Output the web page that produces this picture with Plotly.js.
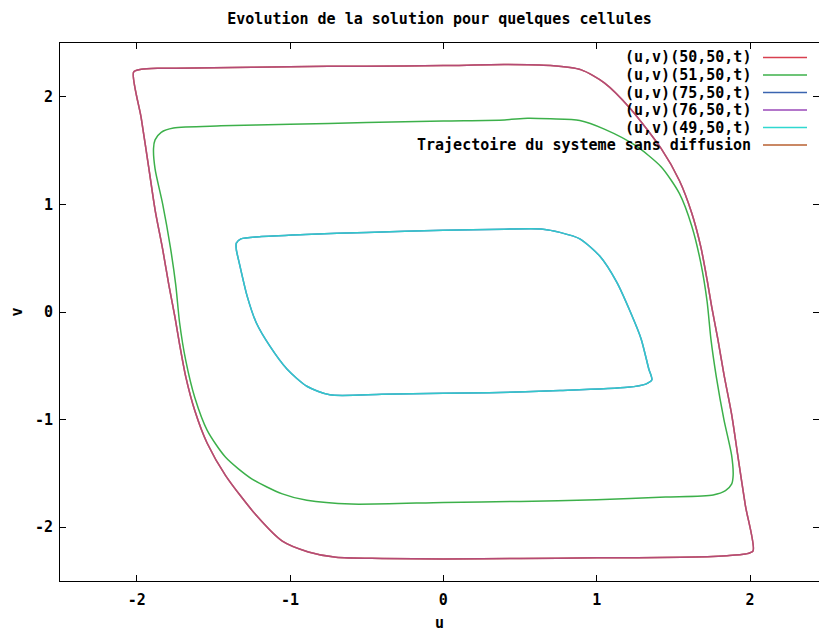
<!DOCTYPE html>
<html>
<head>
<meta charset="utf-8">
<script src="https://cdn.plot.ly/plotly-3.0.1.min.js"></script>
<style>html,body{margin:0;padding:0;background:#fff;}#chart{width:819px;height:632px;}</style>
</head>
<body>
<div id="chart"></div>
<script>
// ---------- DATA ----------
const seriesNames = ["(u,v)(50,50,t)", "(u,v)(51,50,t)", "(u,v)(75,50,t)", "(u,v)(76,50,t)", "(u,v)(49,50,t)", "Trajectoire du systeme sans diffusion"];
const seriesColors = ["#d8404f", "#3cb04a", "#3a64b0", "#9a48b8", "#30d8d0", "#b86030"];

// outer limit cycle (system without diffusion, also followed by cells 50 and 76)
const u_outer = [-2.02,-1.97,-1.85,-1.5,-1.0,-0.5,0.0,0.4,0.7,0.9,1.05,1.22,1.42,1.54,1.62,1.68,1.72,1.75,1.79,1.83,1.88,1.92,1.97,2.02,
                 1.97,1.85,1.55,1.0,0.5,0.0,-0.4,-0.7,-0.88,-1.05,-1.22,-1.42,-1.54,-1.62,-1.68,-1.72,-1.75,-1.79,-1.83,-1.88,-1.92,-1.97,-2.02];
const v_outer = [2.23,2.255,2.265,2.27,2.28,2.285,2.29,2.30,2.29,2.25,2.13,1.89,1.52,1.22,0.92,0.60,0.30,0.05,-0.25,-0.58,-0.95,-1.33,-1.80,-2.22,
                 -2.25,-2.265,-2.28,-2.285,-2.29,-2.295,-2.29,-2.28,-2.23,-2.13,-1.89,-1.52,-1.22,-0.92,-0.60,-0.30,-0.05,0.25,0.58,0.95,1.33,1.80,2.23];

// middle loop: cell (51,50)
const u_mid = [-1.89,-1.88,-1.84,-1.76,-1.45,-1.0,-0.5,0.0,0.4,0.55,0.7,0.89,1.05,1.25,1.42,1.54,1.62,1.68,1.72,1.745,1.78,1.83,1.88,1.89,
               1.88,1.84,1.76,1.45,1.0,0.5,0.0,-0.6,-0.89,-1.05,-1.25,-1.42,-1.54,-1.62,-1.68,-1.72,-1.745,-1.78,-1.83,-1.88,-1.89];
const v_mid = [1.52,1.60,1.67,1.71,1.73,1.745,1.76,1.775,1.785,1.80,1.795,1.78,1.70,1.55,1.35,1.10,0.80,0.45,0.10,-0.25,-0.60,-1.00,-1.33,-1.52,
               -1.60,-1.66,-1.70,-1.72,-1.745,-1.76,-1.77,-1.785,-1.75,-1.69,-1.55,-1.35,-1.10,-0.80,-0.45,-0.10,0.25,0.60,1.00,1.33,1.52];

// inner loop: cells (75,50) and (49,50)
const u_inner = [-1.35,-1.32,-1.2,-0.9,-0.5,0.0,0.4,0.65,0.76,0.89,1.02,1.13,1.22,1.29,1.34,1.36,1.32,1.2,0.76,0.3,0.0,-0.4,-0.74,-0.89,-1.02,-1.13,-1.22,-1.28,-1.33,-1.35,-1.35];
const v_inner = [0.64,0.68,0.70,0.72,0.74,0.76,0.77,0.77,0.74,0.68,0.52,0.28,0.0,-0.25,-0.53,-0.63,-0.67,-0.70,-0.73,-0.75,-0.755,-0.765,-0.77,-0.69,-0.53,-0.32,-0.10,0.15,0.45,0.58,0.64];

const xTickVals = [-2, -1, 0, 1, 2];
const xTickText = ["-2", "-1", "0", "1", "2"];
const yTickVals = [-2, -1, 0, 1, 2];
const yTickText = ["-2", "-1", "0", "1", "2"];

// ---------- CHART ----------
const W = 819, H = 632, ML = 60, MR = 0, MT = 43, MB = 51;
const pw = W - ML - MR, ph = H - MT - MB;
const px2x = p => (p - ML) / pw;
const py2y = p => (H - MB - p) / ph;

const FONT = "DejaVu Sans Mono";
const lineW = 1.5;

function tr(u, v, idx, opacity) {
  return {x: u, y: v, type: "scatter", mode: "lines", name: seriesNames[idx],
          line: {color: seriesColors[idx], width: lineW, shape: "spline", smoothing: 0.7},
          opacity: opacity, hoverinfo: "skip", showlegend: false};
}

const data = [
  tr(u_outer, v_outer, 5, 1.0),   // trajectoire sans diffusion
  tr(u_outer, v_outer, 0, 0.6),   // (50,50)
  tr(u_outer, v_outer, 3, 0.45),  // (76,50)
  tr(u_mid, v_mid, 1, 1.0),       // (51,50)
  tr(u_inner, v_inner, 2, 1.0),   // (75,50)
  tr(u_inner, v_inner, 4, 0.85)   // (49,50)
];

const legendRowsPx = [57.5, 75, 92.5, 110, 127.5, 145];
const annotations = [], shapes = [];
seriesNames.forEach((n, i) => {
  annotations.push({xref: "paper", yref: "paper", x: px2x(753), y: py2y(legendRowsPx[i]),
    xanchor: "right", yanchor: "middle", showarrow: false, text: n,
    font: {family: FONT, size: 15, color: "#000", weight: "bold"}});
  shapes.push({type: "line", xref: "paper", yref: "paper",
    x0: px2x(763), x1: px2x(807), y0: py2y(legendRowsPx[i]), y1: py2y(legendRowsPx[i]),
    line: {color: seriesColors[i], width: 1.5}});
});

const axisCommon = {
  showgrid: false, zeroline: false, showline: true, linecolor: "#000", linewidth: 1,
  mirror: "allticks", ticks: "inside", ticklen: 6, tickwidth: 1, tickcolor: "#000",
  tickfont: {family: FONT, size: 15, color: "#000", weight: "bold"}, tickmode: "array"
};

const layout = {
  width: W, height: H,
  margin: {l: ML, r: MR, t: MT, b: MB, pad: 0},
  paper_bgcolor: "#fff", plot_bgcolor: "#fff",
  showlegend: false,
  title: {text: "Evolution de la solution pour quelques cellules", xref: "paper", x: 0.5, xanchor: "center",
          yref: "container", y: 1 - 19 / H, yanchor: "middle",
          font: {family: FONT, size: 15, color: "#000", weight: "bold"}},
  xaxis: Object.assign({}, axisCommon, {range: [-2.5, 2.45], tickvals: xTickVals, ticktext: xTickText,
          ticklabelstandoff: 5,
          title: {text: "u", standoff: 14, font: {family: FONT, size: 15, color: "#000", weight: "bold"}}}),
  yaxis: Object.assign({}, axisCommon, {range: [-2.5, 2.5], tickvals: yTickVals, ticktext: yTickText,
          ticklabelstandoff: 3,
          title: {text: "v", standoff: 8, font: {family: FONT, size: 15, color: "#000", weight: "bold"}}}),
  annotations: annotations,
  shapes: shapes
};

Plotly.newPlot("chart", data, layout, {staticPlot: true, displayModeBar: false});
</script>
</body>
</html>
